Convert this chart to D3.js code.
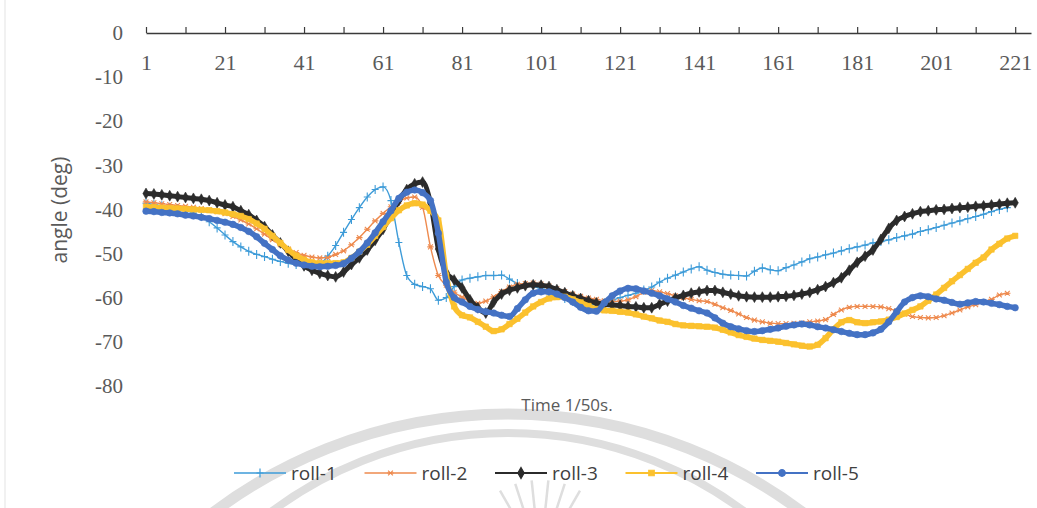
<!DOCTYPE html>
<html>
<head>
<meta charset="utf-8">
<script src="https://cdn.jsdelivr.net/npm/d3@7"></script>
<style>
  body { margin: 0; background: #fff; }
  svg { display: block; }
</style>
</head>
<body>
<div class="visHolder"></div>
<script>
// sample index (1/50 s), every second sample
const categories = d3.range(1, 222, 2);

const roll1 = [
  -38.6, -38.9, -39.2, -39.5, -39.8, -40.2, -40.8, -41.6, -42.8, -44.2,
  -45.8, -47.3, -48.5, -49.5, -50.2, -50.7, -51.3, -51.8, -52.2, -52.5,
  -52.8, -52.9, -52.4, -50.6, -48.2, -45.2, -42.3, -39.6, -37.2, -35.5,
  -34.9, -38, -47.5, -55, -57, -57.5, -58, -60.6, -60, -57.5,
  -56, -55.6, -55.3, -55, -55, -54.9, -55.8, -56.8, -57.2, -57.5,
  -58, -58.8, -59.5, -60.2, -60.8, -61.3, -61.6, -61.6, -61.2, -60.6,
  -60, -59.5, -59, -58.3, -57.6, -56.5, -55.6, -54.9, -54.2, -53.5,
  -53, -53.8, -54.3, -54.7, -54.9, -55, -55.1, -54, -53.3, -53.7,
  -53.9, -53.2, -52.6, -51.9, -51.2, -50.8, -50.3, -49.9, -49.4, -48.9,
  -48.5, -48.1, -47.6, -47.3, -46.9, -46.4, -46, -45.6, -45, -44.6,
  -44.1, -43.6, -43.1, -42.6, -42.1, -41.6, -41.1, -40.5, -40, -39.6
];

const roll2 = [
  -38.3, -38.5, -38.7, -38.9, -39.1, -39.3, -39.5, -39.8, -40.1, -40.5,
  -41, -41.6, -42.4, -43.3, -44.4, -45.6, -46.9, -48, -49, -49.8,
  -50.4, -50.8, -51, -50.9, -50.2, -49.4, -48, -46.4, -44.5, -42.6,
  -40.9, -39.4, -38.2, -37.4, -37.2, -39.5, -48.5, -55, -57.2, -58.8,
  -59.9, -60.8, -61.3, -60.8, -59.8, -58.6, -57.6, -57, -56.8, -56.7,
  -56.9, -57.4, -58, -58.6, -59.2, -59.7, -60.1, -60.4, -60.7, -60.9,
  -60.8, -60.5, -59.8, -58.8, -58.4, -58.7, -59.1, -59.6, -60, -60.4,
  -60.7, -60.9, -61.5, -62.3, -62.9, -63.7, -64.5, -65.1, -65.5, -65.8,
  -65.9, -65.9, -65.8, -65.7, -65.5, -65.3, -65, -63.8, -62.8, -62.2,
  -62, -62, -62, -62.1, -62.5, -63, -63.7, -64.3, -64.5, -64.6,
  -64.5, -64.1, -63.5, -62.8, -62.1, -61.6, -61, -60.4, -59.4, -59
];

const roll3 = [
  -36.4, -36.5, -36.7, -36.9, -37.1, -37.3, -37.5, -37.7, -38, -38.5,
  -39, -39.4, -40.3, -41.2, -42.5, -43.9, -45.8, -47.6, -49.5, -51.3,
  -52.8, -53.8, -54.5, -55, -55.3, -54.2, -52.5, -51, -49.2, -47,
  -44.5, -41.3, -38, -35.5, -34.2, -33.8, -38.5, -49, -54.3, -56,
  -57.8, -60.5, -62.3, -63.5, -61, -59.2, -58.3, -57.8, -57.3, -57.1,
  -57.2, -57.5, -58.2, -58.9, -59.6, -60.2, -60.7, -61.2, -61.5, -61.7,
  -61.8, -62, -62.1, -62.3, -62.3, -61.5, -60.8, -60.1, -59.5, -59,
  -58.7, -58.4, -58.4, -58.8, -59.2, -59.6, -59.8, -59.9, -59.9, -59.9,
  -59.8, -59.7, -59.5, -59.2, -58.8, -58.2, -57.5, -56.6, -55.5, -53.8,
  -52, -50.6, -49.2, -46.8, -44.3, -42.5, -41.6, -41, -40.5, -40.3,
  -40.1, -40, -39.8, -39.6, -39.5, -39.3, -39.2, -39, -38.8, -38.6, -38.5
];

const roll4 = [
  -39.4, -39.5, -39.6, -39.7, -39.8, -39.9, -40, -40.1, -40.2, -40.4,
  -40.7, -41.1, -41.5, -42.2, -43.2, -44.4, -46, -47.6, -49.2, -50.5,
  -51.4, -52, -52.2, -52.2, -52.2, -52, -51, -49.6, -48, -46,
  -44, -42, -40.2, -39.1, -38.6, -38.9, -40.3, -42.5, -55, -62,
  -64, -64.5, -65.5, -66.6, -67.6, -67.2, -66, -64.8, -63.4, -62,
  -61, -60.2, -59.9, -59.8, -60.4, -61.1, -61.9, -62.6, -62.9, -63,
  -63.2, -63.4, -63.8, -64.3, -64.7, -65.2, -65.5, -66, -66.3, -66.4,
  -66.5, -66.6, -66.8, -67.3, -67.9, -68.5, -68.9, -69.3, -69.6, -69.8,
  -70, -70.3, -70.6, -70.9, -71.1, -70.7, -69.2, -67.2, -65.6, -65.1,
  -65.6, -65.8, -65.6, -65.4, -65, -64.4, -63.6, -62.8, -62, -60.7,
  -59.3, -57.8, -56.3, -54.9, -53.5, -52.1, -50.9, -49.1, -47.8, -46.6, -46
];

const roll5 = [
  -40.4, -40.5, -40.7, -40.8, -41, -41.3, -41.5, -41.8, -42.1, -42.5,
  -42.9, -43.4, -44.1, -45, -46.2, -47.7, -49.1, -50.5, -51.5, -52.2,
  -52.6, -52.9, -53, -52.9, -52.7, -52.3, -51.1, -49.6, -47.6, -45.3,
  -42.8, -40.3, -37.5, -36.1, -35.6, -36.2, -38, -45.4, -56.5, -60,
  -61, -62, -62.7, -63.2, -63.5, -64, -64.3, -62.5, -60.5, -59,
  -58.7, -58.7, -59.2, -60, -61, -62.2, -63, -63.1, -61.2, -59.6,
  -58.5, -57.9, -58, -58.5, -59, -59.6, -60.3, -61, -61.8, -62.4,
  -63, -63.5, -64.6, -65.8, -66.6, -67.1, -67.5, -67.7, -67.5, -67.2,
  -66.9, -66.5, -66.2, -66, -66.2, -66.6, -66.9, -67.3, -67.7, -68.1,
  -68.4, -68.4, -68, -67.2, -65.5, -63.2, -61, -60, -59.6, -59.8,
  -60.3, -60.6, -61.1, -61.5, -61.2, -60.9, -61, -61.3, -61.6, -62, -62.3
];

const seriesNames = ["roll-1", "roll-2", "roll-3", "roll-4", "roll-5"];
const xTickValues = d3.range(1, 222, 10);
const xTickLabels = [1, 21, 41, 61, 81, 101, 121, 141, 161, 181, 201, 221];
const yTickValues = [0, -10, -20, -30, -40, -50, -60, -70, -80];

// Chart dimensions
const width = 1037;
const height = 508;

const svg = d3
  .select(".visHolder")
  .append("svg")
  .attr("width", width)
  .attr("height", height);

// faint watermark arcs behind the chart
const wm = svg.append("g").attr("fill", "none").attr("stroke", "#dedede");
wm.append("circle").attr("cx", 508).attr("cy", 904).attr("r", 490).attr("stroke-width", 11);
wm.append("circle").attr("cx", 508).attr("cy", 828).attr("r", 395).attr("stroke-width", 8);
[-30, -18, -6, 6, 18, 30].forEach((a) => {
  const r = (a * Math.PI) / 180;
  wm.append("line")
    .attr("x1", 540 + Math.sin(r) * 30).attr("y1", 560 - Math.cos(r) * 30)
    .attr("x2", 540 + Math.sin(r) * 80).attr("y2", 560 - Math.cos(r) * 80)
    .attr("stroke-width", 2.5);
});
svg.append("line")
  .attr("x1", 5).attr("x2", 5).attr("y1", 0).attr("y2", height)
  .attr("stroke", "#ececec").attr("stroke-width", 1.5);

// Scales
const xScale = d3.scaleLinear().domain([1, 225]).range([146, 1031]);
const yScale = d3.scaleLinear().domain([0, -80]).range([33, 385.8]);

// X axis sits at 0, ticks point up, labels below
const xAxis = d3
  .axisBottom(xScale)
  .tickValues(xTickValues)
  .tickSizeInner(-6)
  .tickSizeOuter(0)
  .tickPadding(21)
  .tickFormat((d) => (xTickLabels.includes(d) ? d : ""));

const gx = svg
  .append("g")
  .attr("transform", `translate(0, ${yScale(0)})`)
  .call(xAxis);
gx.select(".domain").attr("stroke", "#3a3a3a").attr("stroke-width", 1.6);
gx.selectAll(".tick line").attr("stroke", "#3a3a3a").attr("stroke-width", 1.2);
gx.selectAll(".tick text")
  .attr("fill", "#5a5a5a")
  .style("font-family", "'Liberation Serif', 'DejaVu Serif', serif")
  .style("font-size", "22px");

// Y axis: labels only, plain hyphen minus
const yAxis = d3
  .axisLeft(yScale)
  .tickValues(yTickValues)
  .tickSize(0)
  .tickPadding(8)
  .tickFormat((d) => String(d));
const gy = svg.append("g").attr("transform", "translate(131, 0)").call(yAxis);
gy.select(".domain").remove();
gy.selectAll(".tick text")
  .attr("fill", "#5a5a5a")
  .style("font-family", "'Liberation Serif', 'DejaVu Serif', serif")
  .style("font-size", "21px");

// Marker shapes
const plusPath = "M-3.5,0H3.5M0,-4.5V4.5";
const starPath = "M-3.2,0H3.2M-2.4,-2.4L2.4,2.4M-2.4,2.4L2.4,-2.4";
const styles = [
  { color: "#3d9bd8", width: 1.4, marker: plusPath, stroke: true },
  { color: "#ee8a4e", width: 1.4, marker: starPath, stroke: true },
  { color: "#2b2b2b", width: 5, marker: d3.symbol(d3.symbolDiamond, 34)(), stroke: false },
  { color: "#fbc12e", width: 5.5, marker: d3.symbol(d3.symbolSquare, 30)(), stroke: false },
  { color: "#4472c4", width: 5.5, marker: d3.symbol(d3.symbolCircle, 34)(), stroke: false },
];
const seriesData = [roll1, roll2, roll3, roll4, roll5];

const line = d3
  .line()
  .x((d) => xScale(d[0]))
  .y((d) => yScale(d[1]))
  .curve(d3.curveMonotoneX);

seriesData.forEach((vals, k) => {
  const st = styles[k];
  const pts = vals.map((v, i) => [categories[i], v]);
  const g = svg.append("g");
  g.append("path")
    .datum(pts)
    .attr("fill", "none")
    .attr("stroke", st.color)
    .attr("stroke-width", st.width)
    .attr("stroke-linejoin", "round")
    .attr("d", line);
  g.selectAll("path.mk")
    .data(pts)
    .enter()
    .append("path")
    .attr("class", "mk")
    .attr("d", st.marker)
    .attr("transform", (d) => `translate(${xScale(d[0])},${yScale(d[1])})`)
    .attr("fill", st.stroke ? "none" : st.color)
    .attr("stroke", st.color)
    .attr("stroke-width", st.stroke ? 1.1 : 0.6);
});

// Axis titles
svg
  .append("text")
  .attr("transform", "translate(67, 210) rotate(-90)")
  .attr("text-anchor", "middle")
  .attr("fill", "#5a5a5a")
  .style("font-family", "'Open Sans', sans-serif")
  .style("font-size", "21px")
  .text("angle (deg)");

svg
  .append("text")
  .attr("x", 567)
  .attr("y", 411)
  .attr("text-anchor", "middle")
  .attr("fill", "#5a5a5a")
  .style("font-family", "'Open Sans', sans-serif")
  .style("font-size", "17px")
  .text("Time 1/50s.");

// Legend
const legend = svg.append("g").attr("transform", "translate(234, 473)");
seriesNames.forEach((name, k) => {
  const st = styles[k];
  const item = legend.append("g").attr("transform", `translate(${k * 130.5}, 0)`);
  item.append("line")
    .attr("x1", 0).attr("x2", 52)
    .attr("stroke", st.color)
    .attr("stroke-width", st.stroke ? 1.6 : 2.2);
  item.append("path")
    .attr("d", st.marker)
    .attr("transform", "translate(26,0)")
    .attr("fill", st.stroke ? "none" : st.color)
    .attr("stroke", st.color)
    .attr("stroke-width", 1.2);
  item.append("text")
    .attr("x", 57)
    .attr("dy", "0.35em")
    .attr("fill", "#404040")
    .style("font-family", "'Open Sans', sans-serif")
    .style("font-size", "19px")
    .text(name);
});
</script>
</body>
</html>
